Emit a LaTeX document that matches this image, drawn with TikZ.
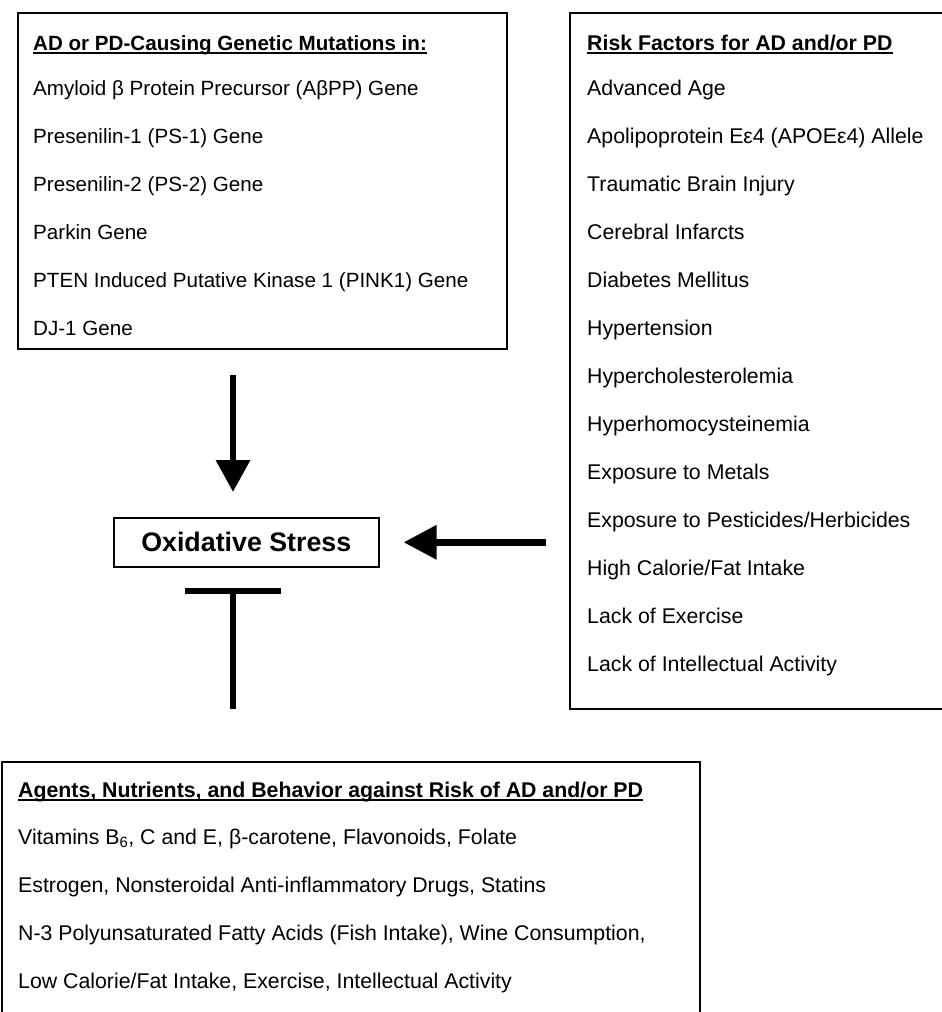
\documentclass[tikz,border=0pt]{standalone}
\usepackage{fontspec}
\setmainfont{Liberation Sans}
\usetikzlibrary{arrows.meta,positioning}

% underline with a heavier rule than \underline
\newcommand{\ulined}[1]{\setbox0\hbox{#1}\rlap{\rule[-3.5pt]{\wd0}{1.6pt}}\box0}

\tikzset{
  box/.style={draw,line width=1.6pt,rectangle,anchor=north west,inner sep=0pt},
  item/.style={anchor=base west,inner sep=0pt,font=\fontsize{20.6}{24}\selectfont},
  head/.style={item,font=\fontsize{20.6}{24}\selectfont\bfseries},
  big/.style={font=\fontsize{21.3}{25}\selectfont},
  bighead/.style={font=\fontsize{21.3}{25}\selectfont\bfseries},
  fat/.style={line width=6.5pt},
}

\begin{document}
\begin{tikzpicture}[x=1pt,y=-1pt]
  \useasboundingbox (0,0) rectangle (942,1012);

  % the four boxes (right and bottom ones run off the page)
  \node[box,minimum width=489pt,minimum height=336pt] (genes) at (17,12) {};
  \node[box,minimum width=400pt,minimum height=696pt] (risk) at (569,12) {};
  \node[box,minimum width=698pt,minimum height=300pt] (agents) at (1,761) {};
  \node[box,minimum width=265pt,minimum height=49pt,
        font=\fontsize{26.8}{30}\selectfont\bfseries] (ox) at (113,517) {\raisebox{-3pt}{Oxidative Stress}};

  % genetic mutations
  \node[head] (genesTitle) at (33,50) {\ulined{AD or PD-Causing Genetic Mutations in:}};
  \foreach \t [count=\i from 0] in {Amyloid β Protein Precursor (AβPP) Gene,
      Presenilin-1 (PS-1) Gene, Presenilin-2 (PS-2) Gene, Parkin Gene,
      PTEN Induced Putative Kinase 1 (PINK1) Gene, DJ-1 Gene}
    \node[item] (gene\i) at (33,{95+48*\i}) {\t};

  % risk factors
  \node[head,bighead] (riskTitle) at (587,50) {\ulined{Risk Factors for AD and/or PD}};
  \foreach \t [count=\i from 0] in {Advanced Age, Apolipoprotein Eε4 (APOEε4) Allele,
      Traumatic Brain Injury, Cerebral Infarcts, Diabetes Mellitus, Hypertension,
      Hypercholesterolemia, Hyperhomocysteinemia, Exposure to Metals,
      Exposure to Pesticides/Herbicides, High Calorie/Fat Intake,
      Lack of Exercise, Lack of Intellectual Activity}
    \node[item,big] (fac\i) at (587,{95+48*\i}) {\t};

  % protective agents
  \node[head,bighead] (agentsTitle) at (18,797) {\ulined{Agents, Nutrients, and Behavior against Risk of AD and/or PD}};
  \foreach \t [count=\i from 0] in {{Vitamins B\textsubscript{6}, C and E, β-carotene, Flavonoids, Folate},
      {Estrogen, Nonsteroidal Anti-inflammatory Drugs, Statins},
      {N-3 Polyunsaturated Fatty Acids (Fish Intake), Wine Consumption,},
      {Low Calorie/Fat Intake, Exercise, Intellectual Activity}}
    \node[item,big] (aid\i) at (18,{844+48*\i}) {\t};

  % connectors
  \coordinate (axis) at (233,0);
  \draw[fat,-{Triangle[width=33pt,length=32pt]},shorten <=25pt,shorten >=25pt]
    (genes.south -| axis) -- (ox.north -| axis);
  \draw[fat,-{Triangle[width=33pt,length=33pt]},shorten <=23pt,shorten >=24pt]
    (risk.west |- ox.east) -- (ox.east);
  \draw[fat,-{Bar[width=96pt]},shorten <=52pt,shorten >=20pt]
    (agents.north -| axis) -- (ox.south -| axis);
\end{tikzpicture}
\end{document}
